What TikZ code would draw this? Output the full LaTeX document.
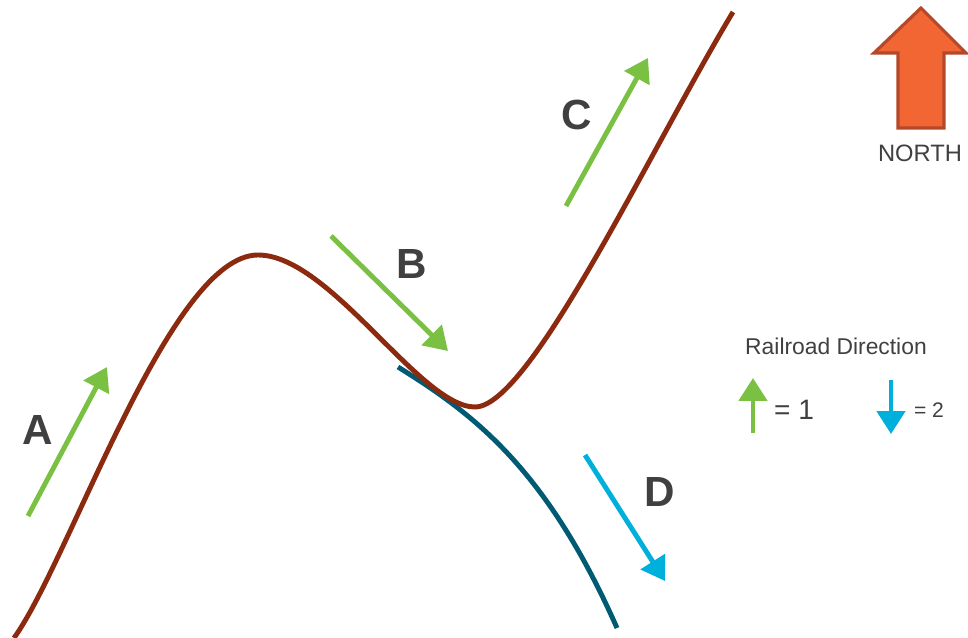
\documentclass[tikz,border=0pt]{standalone}
\usepackage{fontspec}
\setmainfont{Liberation Sans}
\usepackage{tikz}
\usetikzlibrary {
  arrows.meta,
  positioning,
}
\definecolor{railbrown}{HTML}{8B2A0E}
\definecolor{railteal}{HTML}{005A73}
\definecolor{dirgreen}{HTML}{7AC143}
\definecolor{dirblue}{HTML}{00B0DC}
\definecolor{labelgray}{HTML}{404040}
\definecolor{northfill}{HTML}{F26633}
\definecolor{northline}{HTML}{B5472A}
\tikzset{
  track/.style = {
    line width = 2.8pt,
    color = #1
  },
  dir/.style = {
    -{Triangle[length = 0.46cm, width = 0.56cm]},
    line width = 2.8pt,
    color = #1
  },
  letter/.style = {
    font = \fontsize{24}{24}\selectfont\bfseries,
    text = labelgray
  },
  note/.style = {
    font = \fontsize{#1}{#1}\selectfont,
    text = labelgray,
    inner sep = 0pt
  },
}

\begin{document}
\begin{tikzpicture}[x = 0.02cm, y = -0.02cm]
  \useasboundingbox (0,0) rectangle (968,638);
  % tracks
  \draw[track = railteal] (398,367) .. controls (470,412) and (545,465) .. (617,628);
  \draw[track = railbrown] (14,638) .. controls (70,560) and (170,255) .. (258,255)
    .. controls (330,255) and (420,407) .. (475,407)
    .. controls (530,407) and (650,150) .. (733,12);
  % direction arrows
  \coordinate (A0) at (28,516);
  \coordinate (A1) at (107,367);
  \coordinate (B0) at (331,236);
  \coordinate (B1) at (448,351);
  \coordinate (C0) at (566,206);
  \coordinate (C1) at (648,58);
  \coordinate (D0) at (585,455);
  \coordinate (D1) at (665,581);
  \draw[dir = dirgreen] (A0) -- (A1);
  \draw[dir = dirgreen] (B0) -- (B1);
  \draw[dir = dirgreen] (C0) -- (C1);
  \draw[dir = dirblue] (D0) -- (D1);
  \node[letter] (A) at (38,430) {A};
  \node[letter] (B) at (412,264) {B};
  \node[letter] (C) at (577,115) {C};
  \node[letter] (D) at (660,492) {D};
  % north
  \draw[fill = northfill, draw = northline, line width = 1.8pt, line join = miter]
    (898,128) -- (898,53) -- (874,53) -- (921,8) -- (966,53) -- (944,53) -- (944,128) -- cycle;
  \node[note = 13.5] (north) at (920,153) {NORTH};
  % legend
  \node[note = 13] (legend) at (836,346) {Railroad Direction};
  \coordinate (G0) at (753,433);
  \coordinate (G1) at (753,378);
  \coordinate (L0) at (891,380);
  \coordinate (L1) at (891,434);
  \draw[dir = dirgreen] (G0) -- (G1);
  \draw[dir = dirblue] (L0) -- (L1);
  \node[note = 16] (one) at (794,410) {= 1};
  \node[note = 12] (two) at (929,410) {= 2};
\end{tikzpicture}
\end{document}
